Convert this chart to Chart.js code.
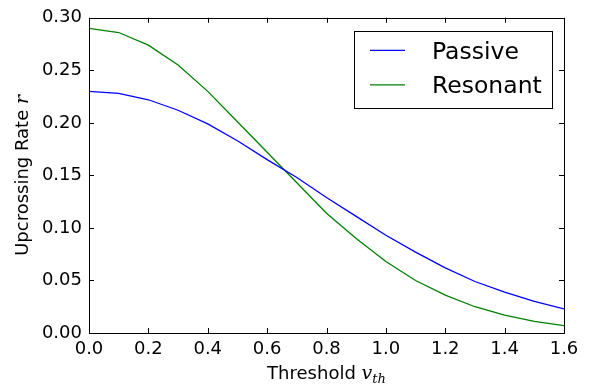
<!DOCTYPE html>
<html>
<head>
<meta charset="utf-8">
<script src="https://cdn.jsdelivr.net/npm/chart.js@4/dist/chart.umd.min.js"></script>
<style>
html,body{margin:0;padding:0;background:#fff;}
#wrap{width:598px;height:388px;position:relative;}
</style>
</head>
<body>
<div id="wrap"><canvas id="c"></canvas></div>
<script>
const thresholds = [0.0,0.1,0.2,0.3,0.4,0.5,0.6,0.7,0.8,0.9,1.0,1.1,1.2,1.3,1.4,1.5,1.6];
const passive  = [0.230,0.228,0.222,0.212,0.199,0.183,0.165,0.148,0.129,0.111,0.093,0.077,0.062,0.049,0.039,0.030,0.023];
const resonant = [0.290,0.286,0.274,0.255,0.230,0.201,0.172,0.143,0.114,0.090,0.068,0.050,0.036,0.025,0.017,0.011,0.007];
const seriesNames = ["Passive","Resonant"];
const xTicks = [0.0,0.2,0.4,0.6,0.8,1.0,1.2,1.4,1.6];
const yTicks = [0.00,0.05,0.10,0.15,0.20,0.25,0.30];
const xTitle = "Threshold";
const xTitleMath = "v";
const xTitleSub = "th";
const yTitle = "Upcrossing Rate";
const yTitleMath = "r";

Chart.defaults.font.family = "'DejaVu Sans', sans-serif";
Chart.defaults.color = "#000";

const toXY = (xs, ys) => xs.map((x,i)=>({x:x,y:ys[i]}));

const decor = {
  id:'decor',
  afterDraw(chart){
    const ctx = chart.ctx, a = chart.chartArea;
    const xs = chart.scales.x, ys = chart.scales.y;
    ctx.save();
    ctx.strokeStyle = '#000';
    ctx.lineWidth = 1;
    // ticks (inward, all sides)
    ctx.beginPath();
    xTicks.forEach(v=>{
      const px = Math.round(xs.getPixelForValue(v))+0.5;
      ctx.moveTo(px,a.bottom); ctx.lineTo(px,a.bottom-5);
      ctx.moveTo(px,a.top); ctx.lineTo(px,a.top+5);
    });
    yTicks.forEach(v=>{
      const py = Math.round(ys.getPixelForValue(v))+0.5;
      ctx.moveTo(a.left,py); ctx.lineTo(a.left+5,py);
      ctx.moveTo(a.right,py); ctx.lineTo(a.right-5,py);
    });
    ctx.stroke();
    // frame
    ctx.strokeRect(Math.round(a.left)+0.5, Math.round(a.top)+0.5, Math.round(a.right-a.left), Math.round(a.bottom-a.top));

    // x title
    ctx.fillStyle = '#000';
    ctx.textBaseline = 'alphabetic';
    ctx.textAlign = 'left';
    const fN = "18px 'DejaVu Sans'";
    const fM = "italic 19px 'DejaVu Serif'";
    const fS = "italic 13px 'DejaVu Serif'";
    ctx.font = fN; const w1 = ctx.measureText(xTitle+" ").width;
    ctx.font = fM; const w2 = ctx.measureText(xTitleMath).width;
    ctx.font = fS; const w3 = ctx.measureText(xTitleSub).width;
    let x0 = (a.left+a.right)/2 - (w1+w2+w3)/2;
    const by = 379;
    ctx.font = fN; ctx.fillText(xTitle+" ", x0, by);
    ctx.font = fM; ctx.fillText(xTitleMath, x0+w1, by);
    ctx.font = fS; ctx.fillText(xTitleSub, x0+w1+w2, by+4);

    // y title
    ctx.save();
    ctx.translate(28, (a.top+a.bottom)/2);
    ctx.rotate(-Math.PI/2);
    ctx.font = fN; const v1 = ctx.measureText(yTitle+" ").width;
    ctx.font = fM; const v2 = ctx.measureText(yTitleMath).width;
    let y0 = -(v1+v2)/2;
    ctx.font = fN; ctx.fillText(yTitle+" ", y0, 0);
    ctx.font = fM; ctx.fillText(yTitleMath, y0+v1, 0);
    ctx.restore();

    // legend
    const L = a.right-12-198, T = a.top+13, W = 198, H = 77;
    ctx.fillStyle = '#fff';
    ctx.fillRect(L, T, W, H);
    ctx.strokeRect(Math.round(L)+0.5, Math.round(T)+0.5, W, H);
    ctx.font = "23.5px 'DejaVu Sans'";
    chart.data.datasets.forEach((ds,i)=>{
      const ly = T + 19.5 + i*34.5;
      ctx.strokeStyle = ds.borderColor;
      ctx.lineWidth = 1.3;
      ctx.beginPath(); ctx.moveTo(L+16, ly); ctx.lineTo(L+51, ly); ctx.stroke();
      ctx.fillStyle = '#000';
      ctx.fillText(ds.label, L+78, ly+8.5);
    });
    ctx.restore();
  }
};

new Chart(document.getElementById('c'), {
  type:'line',
  data:{
    datasets:[
      {label:seriesNames[0], data:toXY(thresholds,passive), borderColor:'#0000ff', borderWidth:1.3, pointRadius:0, tension:0, fill:false},
      {label:seriesNames[1], data:toXY(thresholds,resonant), borderColor:'#008000', borderWidth:1.3, pointRadius:0, tension:0, fill:false}
    ]
  },
  options:{
    responsive:true, maintainAspectRatio:false, animation:false,
    layout:{padding:{top:16,right:34,left:0,bottom:0}},
    plugins:{legend:{display:false}, tooltip:{enabled:false}},
    scales:{
      x:{type:'linear', min:0, max:1.6,
         afterFit(s){ s.height = 55; },
         afterBuildTicks(s){ s.ticks = xTicks.map(v=>({value:v})); },
         grid:{display:false, drawTicks:false}, border:{display:false},
         ticks:{padding:6, maxRotation:0, autoSkip:false, font:{size:18}, callback:v=>v.toFixed(1)}},
      y:{type:'linear', min:0, max:0.3,
         afterFit(s){ s.width = 89; },
         afterBuildTicks(s){ s.ticks = yTicks.map(v=>({value:v})); },
         grid:{display:false, drawTicks:false}, border:{display:false},
         ticks:{padding:7, autoSkip:false, font:{size:18}, callback:v=>v.toFixed(2)}}
    }
  },
  plugins:[decor]
});
</script>
</body>
</html>
